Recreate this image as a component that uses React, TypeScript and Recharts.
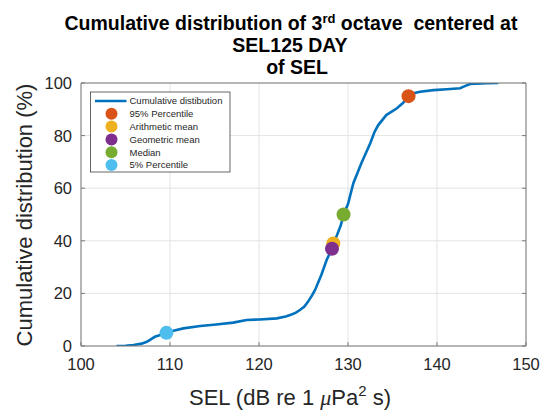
import React from 'react';
import {
  ComposedChart,
  Line,
  Scatter,
  XAxis,
  YAxis,
  CartesianGrid,
} from 'recharts';

// Cumulative distribution curve: SEL (dB) vs cumulative percentage
const selValues = [
  104.0, 105.0, 105.9, 106.8, 107.4, 108.3, 109.0, 109.6, 110.5, 111.5,
  113.4, 115.2, 117.1, 118.6, 120.1, 122.0, 123.0, 123.5, 124.1, 124.6,
  125.1, 125.5, 126.0, 126.3, 127.0, 127.6, 128.2, 128.35, 128.7, 129.2,
  129.5, 130.0, 130.6, 131.5, 132.5, 133.0, 133.4, 134.3, 135.5, 136.2,
  136.8, 137.5, 138.1, 139.6, 141.1, 142.6, 143.0, 143.7, 145.6, 146.9,
];
const cumulativePct = [
  0, 0.1, 0.4, 0.9, 1.6, 3.5, 4.3, 5.0, 5.9, 6.7,
  7.6, 8.2, 8.9, 9.9, 10.1, 10.5, 11.2, 11.8, 12.6, 13.7,
  15.0, 16.8, 19.5, 21.3, 27.0, 32.7, 37.0, 39.0, 41.6, 46.0,
  50.0, 54.0, 61.9, 69.5, 77.1, 81.5, 84.0, 87.8, 90.4, 92.5,
  95.0, 96.2, 96.7, 97.3, 97.6, 98.0, 98.6, 99.6, 99.9, 100,
];

// Summary statistics markers
const statNames = [
  '95% Percentile',
  'Arithmetic mean',
  'Geometric mean',
  'Median',
  '5% Percentile',
];
const statSel = [136.8, 128.35, 128.2, 129.5, 109.6];
const statPct = [95, 39, 37, 50, 5];
const statColors = ['#D95319', '#EDB120', '#7E2F8E', '#77AC30', '#4DBEEE'];

const curveName = 'Cumulative distibution';
const curveColor = '#0072BD';

const xTicks = [100, 110, 120, 130, 140, 150];
const yTicks = [0, 20, 40, 60, 80, 100];

const curveData = selValues.map((x, i) => ({ x, y: cumulativePct[i] }));

const FONT = '"Liberation Sans", Arial, Helvetica, sans-serif';
const AXIS = '#7a7a7a';
const TEXT = '#262626';
const TICK_LEN = 4;

const BottomTick = (p: any) => (
  <g>
    <line x1={p.x} x2={p.x} y1={p.y} y2={p.y - TICK_LEN} stroke={AXIS} />
    <text x={p.x} y={p.y + 24} textAnchor="middle" fontSize={16.5} fill={TEXT} fontFamily={FONT}>
      {p.payload.value}
    </text>
  </g>
);

const TopTick = (p: any) => (
  <line x1={p.x} x2={p.x} y1={p.y} y2={p.y + TICK_LEN} stroke={AXIS} />
);

const LeftTick = (p: any) => (
  <g>
    <line x1={p.x} x2={p.x + TICK_LEN} y1={p.y} y2={p.y} stroke={AXIS} />
    <text x={p.x - 9} y={p.y + 6} textAnchor="end" fontSize={16.5} fill={TEXT} fontFamily={FONT}>
      {p.payload.value}
    </text>
  </g>
);

const RightTick = (p: any) => (
  <line x1={p.x} x2={p.x - TICK_LEN} y1={p.y} y2={p.y} stroke={AXIS} />
);

const dotShape = (color: string) => (p: any) => (
  <circle cx={p.cx} cy={p.cy} r={7} fill={color} />
);

const LegendBox = () => {
  const left = 90.5;
  const top = 92;
  const rowY = (i: number) => top + 9 + i * 12.8;
  return (
    <g fontFamily={FONT}>
      <rect x={left} y={top} width={139.5} height={80} fill="#fff" stroke={TEXT} strokeWidth={0.7} />
      <line x1={left + 4.5} x2={left + 36} y1={rowY(0)} y2={rowY(0)} stroke={curveColor} strokeWidth={2.5} />
      <text x={left + 39} y={rowY(0) + 3.4} fontSize={9.5} fill={TEXT}>
        {curveName}
      </text>
      {statNames.map((name, i) => (
        <g key={name}>
          <circle cx={left + 21} cy={rowY(i + 1)} r={6} fill={statColors[i]} />
          <text x={left + 39} y={rowY(i + 1) + 3.4} fontSize={9.5} fill={TEXT}>
            {name}
          </text>
        </g>
      ))}
    </g>
  );
};

const Title = () => (
  <g fontFamily={FONT} fontWeight="bold" fill="#000">
    <text x={291} y={29.5} textAnchor="middle" fontSize={19.5} xmlSpace="preserve" style={{ whiteSpace: 'pre' }}>
      {'Cumulative distribution of 3'}
      <tspan dy={-7} fontSize={13}>rd</tspan>
      <tspan dy={7}>{' octave  centered at'}</tspan>
    </text>
    <text x={290} y={51.5} textAnchor="middle" fontSize={19.5}>
      SEL125 DAY
    </text>
    <text x={297} y={73.5} textAnchor="middle" fontSize={19.5}>
      of SEL
    </text>
  </g>
);

const AxisTitles = () => (
  <g fontFamily={FONT} fill={TEXT}>
    <text x={290} y={405} textAnchor="middle" fontSize={22} xmlSpace="preserve" style={{ whiteSpace: 'pre' }}>
      {'SEL (dB re 1 '}
      <tspan fontStyle="italic" fontFamily='"Liberation Serif", "DejaVu Serif", serif'>μ</tspan>
      {'Pa'}
      <tspan dy={-9} fontSize={15}>2</tspan>
      <tspan dy={9}>{' s)'}</tspan>
    </text>
    <text x={32} y={215} textAnchor="middle" fontSize={22} transform="rotate(-90, 32, 215)">
      Cumulative distribution (%)
    </text>
  </g>
);

export default function App() {
  return (
    <div style={{ position: 'absolute', left: 0, top: 0, width: 546, height: 413, background: '#fff' }}>
      <ComposedChart
        width={546}
        height={413}
        data={curveData}
        margin={{ top: 63, right: 0, bottom: 37, left: 41 }}
      >
        <CartesianGrid stroke="#e3e3e3" strokeWidth={1} />
        <XAxis
          xAxisId={0}
          type="number"
          dataKey="x"
          domain={[100, 150]}
          ticks={xTicks}
          interval={0}
          allowDataOverflow
          height={30}
          stroke={AXIS}
          tickLine={false}
          tickSize={0}
          tickMargin={0}
          tick={BottomTick}
        />
        <XAxis
          xAxisId="top"
          orientation="top"
          type="number"
          domain={[100, 150]}
          ticks={xTicks}
          interval={0}
          allowDataOverflow
          height={20}
          stroke={AXIS}
          tickLine={false}
          tickSize={0}
          tickMargin={0}
          tick={TopTick}
        />
        <YAxis
          yAxisId={0}
          type="number"
          domain={[0, 100]}
          ticks={yTicks}
          interval={0}
          allowDataOverflow
          width={40}
          stroke={AXIS}
          tickLine={false}
          tickSize={0}
          tickMargin={0}
          tick={LeftTick}
        />
        <YAxis
          yAxisId="right"
          orientation="right"
          type="number"
          domain={[0, 100]}
          ticks={yTicks}
          interval={0}
          allowDataOverflow
          width={20}
          stroke={AXIS}
          tickLine={false}
          tickSize={0}
          tickMargin={0}
          tick={RightTick}
        />
        <Line
          type="linear"
          dataKey="y"
          stroke={curveColor}
          strokeWidth={2.6}
          dot={false}
          activeDot={false}
          isAnimationActive={false}
        />
        {statNames.map((name, i) => (
          <Scatter
            key={name}
            name={name}
            data={[{ x: statSel[i], y: statPct[i] }]}
            dataKey="y"
            fill={statColors[i]}
            shape={dotShape(statColors[i])}
            isAnimationActive={false}
          />
        ))}
        <LegendBox />
        <Title />
        <AxisTitles />
      </ComposedChart>
    </div>
  );
}
